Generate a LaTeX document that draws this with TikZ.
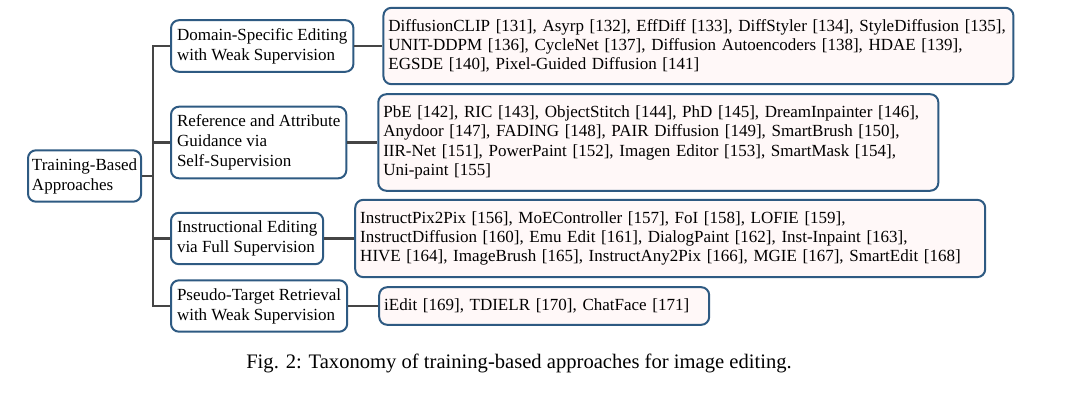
\documentclass[tikz,border=0pt]{standalone}
\usepackage{fontspec}
\setmainfont{Liberation Serif}
\usetikzlibrary{positioning}
\definecolor{taxblue}{HTML}{2E5A82}
\definecolor{taxpink}{HTML}{FFF8F8}
\definecolor{taxgray}{HTML}{454545}

\begin{document}
\begin{tikzpicture}[x=0.5pt, y=-0.5pt,
    catbox/.style={rectangle, rounded corners=4pt, draw=taxblue, fill=white, line width=1pt, align=left, inner xsep=3pt, inner ysep=4pt, font=\fontsize{8.5}{10}\selectfont},
    leafbox/.style={rectangle, rounded corners=4pt, draw=taxblue, fill=taxpink, line width=1pt, align=left, inner xsep=2.5pt, inner ysep=5.8pt, text width=#1, font=\fontsize{8.5}{9.65}\selectfont},
    link/.style={draw=taxgray, line width=1.3pt}
]
    \useasboundingbox (0,0) rectangle (1080,394);

    % Root
    \node (root) [catbox, inner xsep=2pt, anchor=west] at (27,176) {Training-Based\\Approaches};
    \coordinate (trunk) at (153,176);

    % Categories
    \node (c1) [catbox, anchor=west] at (170,46) {Domain-Specific Editing\\with Weak Supervision};
    \node (c2) [catbox, anchor=west] at (170,142.5) {Reference and Attribute\\Guidance via\\Self-Supervision};
    \node (c3) [catbox, anchor=west] at (170,238.5) {Instructional Editing\\via Full Supervision};
    \node (c4) [catbox, anchor=west] at (170,306) {Pseudo-Target Retrieval\\with Weak Supervision};

    % Methods
    \node (l1) [leafbox=310pt, right=14pt of c1] {DiffusionCLIP [131], Asyrp [132], EffDiff [133], DiffStyler [134], StyleDiffusion [135],\\
        UNIT-DDPM [136], CycleNet [137], Diffusion Autoencoders [138], HDAE [139],\\
        EGSDE [140], Pixel-Guided Diffusion [141]};
    \node (l2) [leafbox=275pt, right=15pt of c2] {PbE [142], RIC [143], ObjectStitch [144], PhD [145], DreamInpainter [146],\\
        Anydoor [147], FADING [148], PAIR Diffusion [149], SmartBrush [150],\\
        IIR-Net [151], PowerPaint [152], Imagen Editor [153], SmartMask [154],\\
        Uni-paint [155]};
    \node (l3) [leafbox=310pt, right=15pt of c3] {InstructPix2Pix [156], MoEController [157], FoI [158], LOFIE [159],\\
        InstructDiffusion [160], Emu Edit [161], DialogPaint [162], Inst-Inpaint [163],\\
        HIVE [164], ImageBrush [165], InstructAny2Pix [166], MGIE [167], SmartEdit [168]};
    \node (l4) [leafbox=160pt, right=15pt of c4] {iEdit [169], TDIELR [170], ChatFace [171]};

    % Connectors
    \draw[link] (root.east) -- (trunk);
    \foreach \c in {c1,c2,c3,c4}
        \draw[link] (trunk) |- (\c.west);
    \foreach \c/\l in {c1/l1,c2/l2,c3/l3,c4/l4}
        \draw[link] (\c.east) -- (\l.west);

    % Caption
    \node (cap) [font=\fontsize{10.3}{12}\selectfont] at (519,363) {Fig. 2: Taxonomy of training-based approaches for image editing.};
\end{tikzpicture}
\end{document}
